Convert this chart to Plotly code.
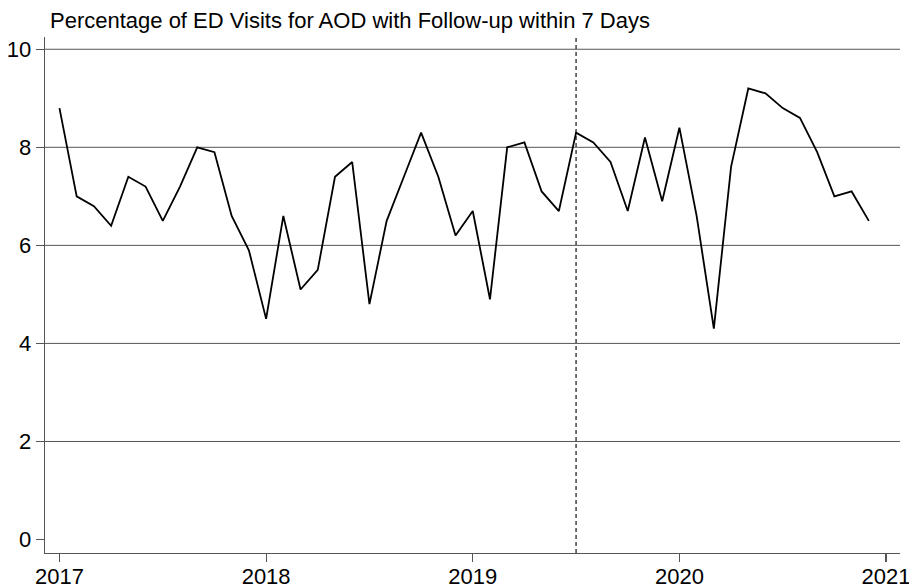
import plotly.graph_objects as go
import pandas as pd

# ---- data ----
months = [str(p) for p in pd.period_range("2017-01", "2020-12", freq="M")]
pct_followup = [
    8.8, 7.0, 6.8, 6.4, 7.4, 7.2, 6.5, 7.2, 8.0, 7.9, 6.6, 5.9,   # 2017
    4.5, 6.6, 5.1, 5.5, 7.4, 7.7, 4.8, 6.5, 7.4, 8.3, 7.4, 6.2,   # 2018
    6.7, 4.9, 8.0, 8.1, 7.1, 6.7, 8.3, 8.1, 7.7, 6.7, 8.2, 6.9,   # 2019
    8.4, 6.6, 4.3, 7.6, 9.2, 9.1, 8.8, 8.6, 7.9, 7.0, 7.1, 6.5,   # 2020
]
x_tick_labels = ["2017", "2018", "2019", "2020", "2021"]
y_tick_values = [0, 2, 4, 6, 8, 10]
grid_values = [2, 4, 6, 8, 10]
intervention_month = "2019-07"
title_text = "Percentage of ED Visits for AOD with Follow-up within 7 Days"


def month_index(m):
    return (int(m[:4]) - 2017) * 12 + int(m[5:7]) - 1


x_vals = [month_index(m) for m in months]
x_tick_vals = [(int(y) - 2017) * 12 for y in x_tick_labels]

FONT = "Liberation Sans, Arial, Helvetica, sans-serif"
AXIS_COL = "#555555"
GRID_COL = "#555555"

fig = go.Figure()
fig.add_trace(go.Scatter(
    x=x_vals, y=pct_followup, mode="lines",
    line=dict(color="black", width=1.8),
    hoverinfo="skip", showlegend=False,
))

shapes = []
for g in grid_values:
    shapes.append(dict(type="line", xref="paper", yref="y", x0=0, x1=1, y0=g, y1=g,
                       line=dict(color=GRID_COL, width=1), layer="below"))
shapes.append(dict(type="line", xref="x", yref="paper",
                   x0=month_index(intervention_month), x1=month_index(intervention_month),
                   y0=0, y1=1, line=dict(color="#444444", width=1.5, dash="4px,3px"),
                   layer="below"))

fig.update_layout(
    width=909, height=587,
    margin=dict(l=45, r=9, t=37, b=34, autoexpand=False),
    paper_bgcolor="white", plot_bgcolor="white",
    font=dict(family=FONT, size=22, color="black"),
    title=dict(text=title_text, xref="container", yref="container",
               x=50 / 909, xanchor="left", y=1 - 20 / 587, yanchor="middle",
               font=dict(family=FONT, size=22, color="black")),
    shapes=shapes,
    showlegend=False,
)
fig.update_xaxes(
    range=[-0.84, 48.81], tickmode="array", tickvals=x_tick_vals, ticktext=x_tick_labels,
    showgrid=False, zeroline=False, showline=True, linecolor=AXIS_COL, linewidth=1.3,
    ticks="outside", ticklen=8, tickcolor=AXIS_COL, tickwidth=1.2,
    automargin=False, ticklabeloverflow="allow", ticklabelstandoff=-5,
)
fig.update_yaxes(
    range=[-0.275, 10.25], tickmode="array", tickvals=y_tick_values,
    showgrid=False, zeroline=False, showline=True, linecolor=AXIS_COL, linewidth=1.3,
    ticks="outside", ticklen=8, tickcolor=AXIS_COL, tickwidth=1.2,
    automargin=False, ticklabeloverflow="allow",
)

fig.write_html(
    "out.html",
    config={"displayModeBar": False, "staticPlot": True},
    post_script="document.body.style.margin='0';document.body.style.overflow='hidden';",
)
